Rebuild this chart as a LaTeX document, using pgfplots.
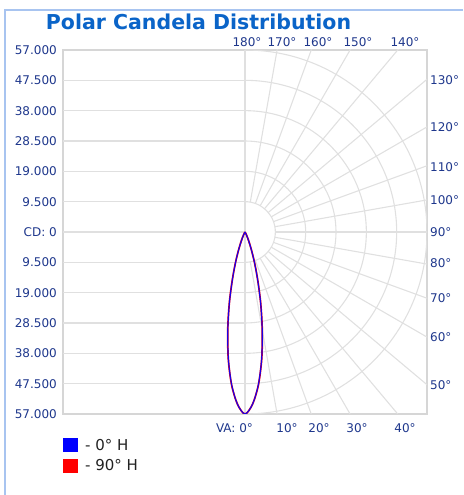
\documentclass[border=0pt]{standalone}
\usepackage{fontspec}
\setmainfont{DejaVu Sans}
\usepackage{pgfplots}
\pgfplotsset{compat=1.18}
\usepackage{pgfplotstable}
\definecolor{lblue}{RGB}{30,55,140}
\definecolor{tblue}{RGB}{10,100,200}
\definecolor{gridc}{RGB}{224,224,224}
\definecolor{boxc}{RGB}{214,214,214}
\definecolor{framec}{RGB}{168,196,240}
\definecolor{legc}{RGB}{34,34,34}

% 0 deg H plane: angle (deg from nadir), candela
\pgfplotstableread{
a cd
-40 0
-35 50
-30 300
-27.5 700
-25 1500
-22.5 3000
-20 5500
-17.5 9500
-15 15000
-12.5 22500
-10 31000
-7.5 40000
-5 48000
-2.5 54000
0 57000
2.5 54000
5 48000
7.5 40000
10 31000
12.5 22500
15 15000
17.5 9500
20 5500
22.5 3000
25 1500
27.5 700
30 300
35 50
40 0
}\lobezero

% 90 deg H plane
\pgfplotstableread{
a cd
-40 0
-35 60
-30 320
-27.5 720
-25 1550
-22.5 3050
-20 5600
-17.5 9600
-15 15100
-12.5 22600
-10 31100
-7.5 40100
-5 48100
-2.5 54000
0 57000
2.5 54000
5 48100
7.5 40100
10 31100
12.5 22600
15 15100
17.5 9600
20 5600
22.5 3050
25 1550
27.5 720
30 320
35 60
40 0
}\lobeninety

\begin{document}
\begin{tikzpicture}
\useasboundingbox (0pt,0pt) rectangle (463pt,495pt);
\begin{axis}[
  at={(63pt,81pt)}, anchor=south west,
  scale only axis, width=364pt, height=364pt,
  xmin=-57000, xmax=57000, ymin=-57000, ymax=57000,
  scaled x ticks=false, scaled y ticks=false,
  axis line style={draw=boxc, line width=1.4pt},
  xtick=\empty,
  ytick={-57000,-47500,-38000,-28500,-19000,-9500,0,9500,19000,28500,38000,47500,57000},
  yticklabels={57.000,47.500,38.000,28.500,19.000,9.500,CD: 0,9.500,19.000,28.500,38.000,47.500,57.000},
  major tick length=0pt,
  ytick style={draw=none},
  yticklabel style={font=\fontsize{12}{14}\selectfont, text=lblue, inner xsep=0pt, xshift=-6pt},
  legend image code/.code={\fill[#1, draw=none] (0pt,-7pt) rectangle (15pt,7pt);},
  legend style={at={(0,-0.063)}, anchor=north west, draw=none, fill=none, inner sep=0pt,
    font=\fontsize{15}{18}\selectfont, text=legc, row sep=4pt, cells={anchor=west},
    /tikz/every odd column/.append style={column sep=5pt}},
]
% left half horizontal grid lines
\pgfplotsinvokeforeach{-5,...,5}{
  \draw[gridc, line width=1.1pt] (axis cs:-57000,{9500*#1}) -- (axis cs:0,{9500*#1});
}
\draw[gridc, line width=1.1pt] (axis cs:0,-57000) -- (axis cs:0,57000);
% polar circles (right half)
\pgfplotsinvokeforeach{1,...,6}{
  \draw[gridc, line width=1.1pt] (axis cs:0,{-9500*#1}) arc[start angle=-90, end angle=90, radius={30.3333pt*#1}];
}
% radial lines
\pgfplotsinvokeforeach{10,20,...,170}{
  \draw[gridc, line width=1.1pt] (axis cs:{9500*sin(#1)},{-9500*cos(#1)}) -- (axis cs:{90000*sin(#1)},{-90000*cos(#1)});
}
\addplot[red, line width=1.7pt, smooth, forget plot] table[x expr={\thisrow{cd}*sin(\thisrow{a})}, y expr={-\thisrow{cd}*cos(\thisrow{a})}] {\lobeninety};
\addplot[blue, line width=1.2pt, smooth, opacity=0.9, forget plot] table[x expr={\thisrow{cd}*sin(\thisrow{a})}, y expr={-\thisrow{cd}*cos(\thisrow{a})}] {\lobezero};
\addlegendimage{fill=blue}
\addlegendentry{- 0° H}
\addlegendimage{fill=red}
\addlegendentry{- 90° H}
\end{axis}
% outer frame
\draw[framec, line width=1.2pt] (5pt,0pt) -- (5pt,485pt) -- (463pt,485pt);
% title
\node[font=\bfseries\fontsize{20.5}{24}\selectfont, text=tblue] at (198.5pt,473pt) {Polar Candela Distribution};
% angle labels
\begin{scope}[every node/.style={font=\fontsize{12}{14}\selectfont, text=lblue, inner sep=0pt}]
\node at (247pt,453pt) {180°};
\node at (282pt,453pt) {170°};
\node at (318pt,453pt) {160°};
\node at (358pt,453pt) {150°};
\node at (405pt,453pt) {140°};
\node[anchor=west] at (430pt,415pt) {130°};
\node[anchor=west] at (430pt,368pt) {120°};
\node[anchor=west] at (430pt,328pt) {110°};
\node[anchor=west] at (430pt,295pt) {100°};
\node[anchor=west] at (430pt,263pt) {90°};
\node[anchor=west] at (430pt,232pt) {80°};
\node[anchor=west] at (430pt,197pt) {70°};
\node[anchor=west] at (430pt,158pt) {60°};
\node[anchor=west] at (430pt,110pt) {50°};
\node at (234.5pt,67pt) {VA: 0°};
\node at (287pt,67pt) {10°};
\node at (319pt,67pt) {20°};
\node at (357pt,67pt) {30°};
\node at (405pt,67pt) {40°};
\end{scope}
\end{tikzpicture}
\end{document}
